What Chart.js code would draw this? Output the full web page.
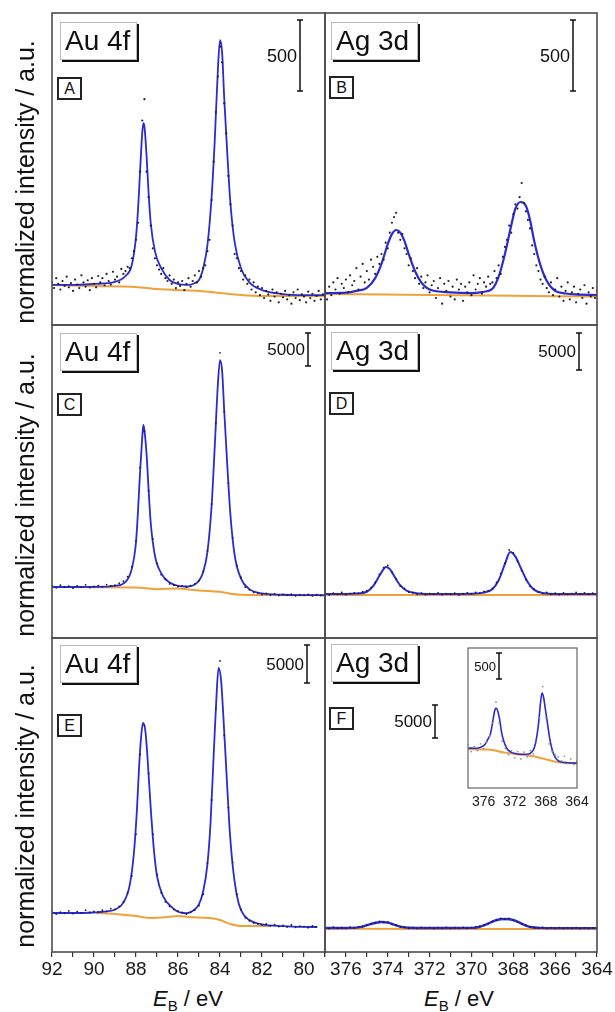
<!DOCTYPE html>
<html>
<head>
<meta charset="utf-8">
<script src="https://cdn.jsdelivr.net/npm/chart.js@4.4.1/dist/chart.umd.min.js"></script>
<style>
  body { margin: 0; background: #fff; width: 615px; height: 1012px; position: relative; overflow: hidden;
         font-family: "Liberation Sans", Arial, sans-serif; color: #111; }
  canvas { position: absolute; }
  .name { position: absolute; background: #fff; border: 1px solid #bbb; box-shadow: 2px 2px 0 #111;
          font-size: 28px; line-height: 36px; padding-left: 4px; box-sizing: border-box; height: 38px; z-index: 5; }
  .tag { position: absolute; border: 2px solid #222; background: #fff; width: 25px; height: 23px; box-sizing: border-box;
         font-size: 16px; line-height: 19px; text-align: center; z-index: 5; }
  .ytitle { position: absolute; left: 25px; transform: translate(-50%, -50%) rotate(-90deg); white-space: nowrap;
            font-size: 25px; z-index: 5; }
  .xtitle { position: absolute; top: 1000px; transform: translate(-50%, -50%); white-space: nowrap; font-size: 22px; }
  .xtitle sub { font-size: 15px; vertical-align: -5px; }
</style>
</head>
<body>

<div class="name" style="left:60px;top:22px;width:77px">Au 4f</div>
<div class="tag" style="left:57px;top:77px">A</div>
<div class="name" style="left:331px;top:22px;width:87px">Ag 3d</div>
<div class="tag" style="left:329px;top:76px">B</div>
<div class="name" style="left:60px;top:333px;width:77px">Au 4f</div>
<div class="tag" style="left:57px;top:393px">C</div>
<div class="name" style="left:331px;top:332px;width:87px">Ag 3d</div>
<div class="tag" style="left:329px;top:392px">D</div>
<div class="name" style="left:60px;top:645px;width:77px">Au 4f</div>
<div class="tag" style="left:57px;top:714px">E</div>
<div class="name" style="left:331px;top:644px;width:87px">Ag 3d</div>
<div class="tag" style="left:329px;top:707px">F</div>

<div class="ytitle" style="top:182px">normalized intensity / a.u.</div>
<div class="ytitle" style="top:495px">normalized intensity / a.u.</div>
<div class="ytitle" style="top:806px">normalized intensity / a.u.</div>
<div class="xtitle" style="left:188px"><i>E</i><sub>B</sub> / eV</div>
<div class="xtitle" style="left:459px"><i>E</i><sub>B</sub> / eV</div>

<script>
// ---- data (intensity in counts, binding energy in eV) ----

// Au 4f fits (A and C share the same energy points)
const auFitX = [92,91,90,89,88.5,88.2,88,87.9,87.8,87.7,87.65,87.6,87.5,87.4,87.3,87.1,86.8,86.4,86,85.5,
                85.2,85,84.8,84.6,84.4,84.25,84.1,84,83.9,83.8,83.65,83.5,83.3,83,82.6,82,81,80,79];
const fitA = [282,282,289,303,345,422,620,820,1100,1360,1422,1400,1200,930,720,520,400,317,289,282,
              296,317,400,560,900,1300,1800,2006,1920,1600,1200,850,580,400,300,246,218,211,211];
const fitC = [7730,7730,7750,7900,8500,10500,14500,19500,25500,30500,32270,31500,28000,22500,17500,12500,9800,8400,7900,7800,
              8100,8700,10000,13000,20000,29000,38500,42100,40500,34500,26000,18500,12500,9000,7400,6750,6550,6500,6480];
const fitEX = [92,91,90,89.5,89,88.6,88.3,88.1,87.95,87.85,87.75,87.67,87.55,87.45,87.3,87.15,87,86.7,86.3,86,
               85.6,85.3,85,84.8,84.6,84.45,84.3,84.17,84.07,83.95,83.85,83.7,83.55,83.4,83.2,83,82.6,82,81,80,79.4];
const fitE = [5130,5130,5200,5300,5600,6500,8800,13000,19000,24500,28500,30140,29000,25500,19000,13500,10000,7300,5900,5300,
              5100,5400,6300,8000,11500,17000,26000,33500,37370,35800,31500,24000,16500,11500,7500,5500,4200,3650,3400,3300,3290];

// Au 4f backgrounds
const bgAX = [92,90,88,87,86,85,84,83,82,80,79];
const bgA = [282,275,268,253,246,239,225,211,204,204,204];
const bgCX = [92,90,88,87,86,85.5,85,84,83.5,83,82,80,79];
const bgC = [7730,7700,7650,7400,7500,7350,7200,7000,6700,6550,6500,6480,6480];
const bgEX = [89.9,89,88,87.3,86.5,86,85.5,84.5,84,83.5,83,82.5,81.6];
const bgE = [5130,5000,4740,4470,4600,4740,4600,4470,4200,3680,3420,3420,3420];

// Ag 3d fits
const fitBX = [377,376,375.5,375,374.6,374.3,374,373.8,373.6,373.4,373.2,373,372.7,372.4,372,371,370,369.5,369,368.7,
               368.4,368.1,367.9,367.65,367.4,367.2,367,366.7,366.4,366,365.5,365,364];
const fitB = [225,228,240,262,330,430,570,640,669,650,590,500,380,300,250,230,225,232,255,340,
              500,700,820,866,840,740,590,420,310,240,222,215,211];
const fitDX = [377,376,375.5,375,374.7,374.4,374.2,374.1,373.9,373.7,373.4,373.1,372.7,372,371,370,369.5,369,368.7,368.4,
               368.15,367.9,367.6,367.3,367,366.5,366,365,364];
const fitD = [5950,5950,6000,6250,7000,8400,9300,9590,9300,8400,7100,6400,6080,5950,5950,5980,6100,6600,7800,10000,
              11620,11000,9200,7500,6500,6050,5960,5950,5950];
const fitFX = [377,376,375.5,375.2,374.9,374.6,374.3,374,373.7,373.4,373,372,371,370,369.7,369.4,369.1,368.8,368.4,368,
               367.7,367.4,367.1,366.7,366,365,364];
const fitF = [3640,3640,3700,3850,4150,4400,4545,4450,4150,3850,3680,3640,3630,3650,3750,4050,4450,4850,5000,4850,
              4450,4000,3750,3650,3620,3620,3610];
const fitInsetX = [378,377,376.3,375.8,375.4,375.1,374.8,374.55,374.4,374.2,373.95,373.7,373.4,373,372.5,371.8,371,370.3,369.8,369.45,
                   369.15,368.9,368.7,368.5,368.3,368.05,367.8,367.5,367.2,366.8,366.3,365.5,364.5,364];
const fitInset = [769,765,790,840,950,1050,1300,1500,1538,1490,1330,1080,900,760,690,660,648,650,690,790,
                  1000,1300,1620,1827,1750,1500,1250,950,740,590,515,488,480,478];

// Ag 3d backgrounds
const bgAgX = [377,372,368,364];
const bgB = [218,212,206,200];
const bgD = [5820,5810,5800,5800];
const bgF = [3530,3500,3480,3480];
const bgInsetX = [378,375.4,373.3,371.1,369.4,368.1,366.8,364.3,364];
const bgInset = [745,740,680,640,605,555,505,478,476];

// measured points (scan start, step and counts)
const dotsA = [300,260,330,290,250,310,275,340,265,295, 240,320,285,260,350,300,270,315,245,330,
               290,265,345,300,330,280,360,310,285,375, 320,340,300,395,360,380,410,400,470,520,
               600,720,1080,1440,1590,1080,900,700,540,470, 420,390,360,400,330,310,350,290,320,260,
               300,275,310,245,290,330,270,310,350,300, 380,340,400,420,520,600,880,1150,1500,1750,
               1960,1850,1560,1350,1050,850,700,500,470,400, 380,320,350,290,320,250,300,230,270,210,
               260,190,240,215,170,250,200,230,160,220, 195,240,180,210,150,230,190,250,175,215,
               200,160,235,190,220,170,205,240,180,215, 195];
const dotsB = [240,180,270,210,300,250,330,220,290,260, 320,230,350,280,310,400,250,340,430,300,
               380,320,460,410,360,480,430,500,460,580, 540,650,720,760,790,650,600,640,540,500,
               420,470,380,330,400,290,340,260,300,350, 230,280,310,190,260,330,150,290,240,310,
               200,270,180,320,250,290,170,270,230,300, 210,350,250,290,330,220,300,270,340,290,
               300,380,330,420,360,480,550,600,700,650, 780,850,820,900,1000,860,800,740,680,560,
               500,420,380,320,290,340,260,230,300,210, 250,330,200,270,170,240,300,180,230,270,
               160,220,250,190,280,150,230,200,260,190, 240];
const dotsC = [7900,7600,8000,7700,7850,7550,7900,7700,8050,7650, 7800,7950,7750,8100,7900,8000,8300,8600,9300,10800,
               14700,25800,31300,22300,15000,11300,9600,8900,8200,8000, 7800,7900,7700,7950,8200,8700,10100,13200,20300,32500,
               43200,34300,23500,15200,11000,9200,7700,7300,6900,6800, 6600,6750,6500,6700,6450,6600,6500,6650,6400,6550,
               6500,6600,6400,6550,6450,6500];
const dotsD = [6100,5800,6050,5900,6150,5850,6000,6100,6050,6250, 6400,6800,7500,8600,9500,9800,8900,8000,7000,6700,
               6200,6100,5900,6050,5850,6000,5900,6100,5850,6000, 5900,6050,5800,6000,6100,5950,6150,6050,6300,6400,
               6700,7500,8700,10100,11900,11500,10400,9100,7900,7000, 6600,6200,6000,6150,5900,6050,5850,6100,5900,6000,
               6150,5950,6100,5900,6050,6000];
const dotsE = [5300,5000,5250,5100,5400,5050,5300,5150,5500,5200, 5350,5250,5500,5350,5700,5600,6000,6600,7800,10000,
               15500,26000,29800,23500,15500,10200,7800,6600,6000,5600, 5400,5200,5000,5250,5500,6100,7600,11700,20000,32000,
               38300,28500,19000,11800,7600,5600,4500,4100,3800,3700, 3550,3700,3450,3600,3350,3500,3300,3550,3250,3400,
               3350,3200,3450,3300];
const dotsF = [3700,3550,3750,3600,3680,3580,3760,3650,3820,3900, 4100,4300,4450,4650,4500,4550,4200,4050,3800,3750,
               3600,3700,3580,3720,3620,3700,3560,3680,3600,3740, 3580,3690,3620,3720,3600,3700,3800,3900,4100,4300,
               4600,4800,5100,4950,5100,4800,4600,4250,4050,3800, 3700,3650,3720,3580,3680,3600,3700,3570,3660,3600,
               3700,3560,3650,3580,3670,3600];
const dotsInset = [830,700,800,720,850,760,880,1000,1250,1650, 1250,900,760,640,720,580,700,560,690,600,
                   720,650,880,1350,1950,1350,850,700,640,600, 520,610,470,560,450,520];

// ---- helpers ----
function pairs(xs, ys) {
    return ys.map((y, i) => ({ x: xs[i], y: y }));
}
function scan(start, step, ys) {
    return ys.map((y, i) => ({ x: +(start - i * step).toFixed(2), y: y }));
}

// frame + scale bar drawn on top of each panel
const panelDecor = {
    id: 'panelDecor',
    beforeDatasetsDraw(chart, args, opts) {
        if (!opts.fill) return;
        const a = chart.chartArea, ctx = chart.ctx;
        ctx.save();
        ctx.fillStyle = opts.fill;
        ctx.fillRect(a.left, a.top, a.right - a.left, a.bottom - a.top);
        ctx.restore();
    },
    afterDatasetsDraw(chart, args, opts) {
        const a = chart.chartArea, ctx = chart.ctx, y = chart.scales.y;
        ctx.save();
        ctx.strokeStyle = opts.frameColor;
        ctx.lineWidth = opts.frameWidth;
        ctx.strokeRect(a.left, a.top, a.right - a.left, a.bottom - a.top);
        const b = opts.bar;
        if (b) {
            const x = a.left + b.dx;
            const y1 = y.getPixelForValue(b.hi), y2 = y.getPixelForValue(b.lo);
            ctx.strokeStyle = '#111';
            ctx.lineWidth = 1.5;
            ctx.beginPath();
            ctx.moveTo(x, y1); ctx.lineTo(x, y2);
            ctx.moveTo(x - 3, y1); ctx.lineTo(x + 3, y1);
            ctx.moveTo(x - 3, y2); ctx.lineTo(x + 3, y2);
            ctx.stroke();
            ctx.fillStyle = '#111';
            ctx.font = b.size + 'px "Liberation Sans", Arial, sans-serif';
            ctx.textAlign = 'right';
            ctx.textBaseline = 'middle';
            ctx.fillText(b.text, x - 3, (y1 + y2) / 2 + 1);
        }
        ctx.restore();
    }
};

function makePanel(p) {
    const padX = 22, padY = 3;
    const axisH = p.axisH || 0;
    const cv = document.createElement('canvas');
    cv.width = p.w + 2 * padX;
    cv.height = p.h + padY + (axisH ? axisH : padY);
    cv.style.left = (p.x - padX) + 'px';
    cv.style.top = (p.y - padY) + 'px';
    cv.style.zIndex = p.z || 1;
    document.body.appendChild(cv);

    new Chart(cv, {
        type: 'scatter',
        data: {
            datasets: [
                {
                    data: p.dots, showLine: false, pointRadius: p.dotR, pointBorderWidth: 0,
                    pointBackgroundColor: p.dotColor, order: 0
                },
                {
                    data: p.fit, showLine: true, pointRadius: 0, borderColor: '#2b2bd2',
                    borderWidth: p.fitW, cubicInterpolationMode: 'monotone', order: 1
                },
                {
                    data: p.bg, showLine: true, pointRadius: 0, borderColor: '#f0a23a',
                    borderWidth: 2, cubicInterpolationMode: 'monotone', order: 2
                }
            ]
        },
        options: {
            responsive: false,
            animation: false,
            events: [],
            layout: {
                autoPadding: false,
                padding: { left: padX, right: padX, top: padY, bottom: axisH ? 0 : padY }
            },
            plugins: {
                legend: { display: false },
                tooltip: { enabled: false },
                panelDecor: { frameColor: p.frameColor || '#4d4d4d', frameWidth: p.frameW || 1.6, bar: p.bar, fill: p.fill }
            },
            scales: {
                x: {
                    type: 'linear', reverse: true, min: p.xMin, max: p.xMax,
                    display: axisH > 0,
                    afterFit: function(scale) { scale.height = axisH; },
                    border: { display: false },
                    grid: {
                        drawOnChartArea: false, display: p.tickLen > 0,
                        tickLength: p.tickLen, color: '#333', lineWidth: 1.2
                    },
                    ticks: {
                        stepSize: p.step, autoSkip: false, maxRotation: 0, includeBounds: false,
                        padding: p.tickPad, color: '#1a1a1a',
                        font: { family: 'Liberation Sans', size: p.tickSize },
                        callback: function(v) { return v % p.labelEvery === 0 ? v : ''; }
                    }
                },
                y: { display: false, min: 0, max: p.yMax }
            }
        },
        plugins: [panelDecor]
    });
}

// ---- panels ----
makePanel({
    x: 52, y: 13, w: 273, h: 312, xMin: 79, xMax: 92, yMax: 2197,
    dots: scan(92, 0.1, dotsA), fit: pairs(auFitX, fitA), bg: pairs(bgAX, bgA),
    dotR: 1.1, dotColor: '#222', fitW: 1.8,
    bar: { dx: 248, lo: 1647, hi: 2147, text: '500', size: 18 }
});
makePanel({
    x: 325, y: 13, w: 272, h: 312, xMin: 364, xMax: 377, yMax: 2197,
    dots: scan(377, 0.1, dotsB), fit: pairs(fitBX, fitB), bg: pairs(bgAgX, bgB),
    dotR: 1.1, dotColor: '#222', fitW: 2.2,
    bar: { dx: 248, lo: 1647, hi: 2147, text: '500', size: 18 }
});
makePanel({
    x: 52, y: 325, w: 273, h: 313, xMin: 79, xMax: 92, yMax: 47420,
    dots: scan(92, 0.2, dotsC), fit: pairs(auFitX, fitC), bg: pairs(bgCX, bgC),
    dotR: 0.9, dotColor: '#1a1a3a', fitW: 1.8,
    bar: { dx: 256, lo: 41208, hi: 46208, text: '5000', size: 17 }
});
makePanel({
    x: 325, y: 325, w: 272, h: 313, xMin: 364, xMax: 377, yMax: 42290,
    dots: scan(377, 0.2, dotsD), fit: pairs(fitDX, fitD), bg: pairs(bgAgX, bgD),
    dotR: 0.9, dotColor: '#1a1a3a', fitW: 2,
    bar: { dx: 254, lo: 36206, hi: 41206, text: '5000', size: 17 }
});
makePanel({
    x: 52, y: 638, w: 273, h: 314, xMin: 79, xMax: 92, yMax: 41320,
    dots: scan(92, 0.2, dotsE), fit: pairs(fitEX, fitE), bg: pairs(bgEX, bgE),
    dotR: 0.9, dotColor: '#1a1a3a', fitW: 1.8,
    bar: { dx: 255, lo: 35401, hi: 40401, text: '5000', size: 17 },
    axisH: 40, tickLen: 5, tickPad: 1, tickSize: 19, step: 1, labelEvery: 2
});
makePanel({
    x: 325, y: 638, w: 272, h: 314, xMin: 364, xMax: 377, yMax: 47570,
    dots: scan(377, 0.2, dotsF), fit: pairs(fitFX, fitF), bg: pairs(bgAgX, bgF),
    dotR: 0.9, dotColor: '#1a1a3a', fitW: 2.4,
    bar: { dx: 110, lo: 32421, hi: 37421, text: '5000', size: 17 },
    axisH: 40, tickLen: 5, tickPad: 1, tickSize: 19, step: 1, labelEvery: 2
});
// inset of panel F
makePanel({
    x: 468, y: 648, w: 109, h: 140, xMin: 364, xMax: 378, yMax: 2692, z: 3,
    dots: scan(378, 0.4, dotsInset), fit: pairs(fitInsetX, fitInset), bg: pairs(bgInsetX, bgInset),
    dotR: 0.9, dotColor: '#8a9a90', fitW: 1.6, fill: '#fff', frameColor: '#666', frameW: 1.2,
    bar: { dx: 31, lo: 2096, hi: 2596, text: '500', size: 13 },
    axisH: 24, tickLen: 0, tickPad: 6, tickSize: 14, step: 4, labelEvery: 4
});
</script>
</body>
</html>
